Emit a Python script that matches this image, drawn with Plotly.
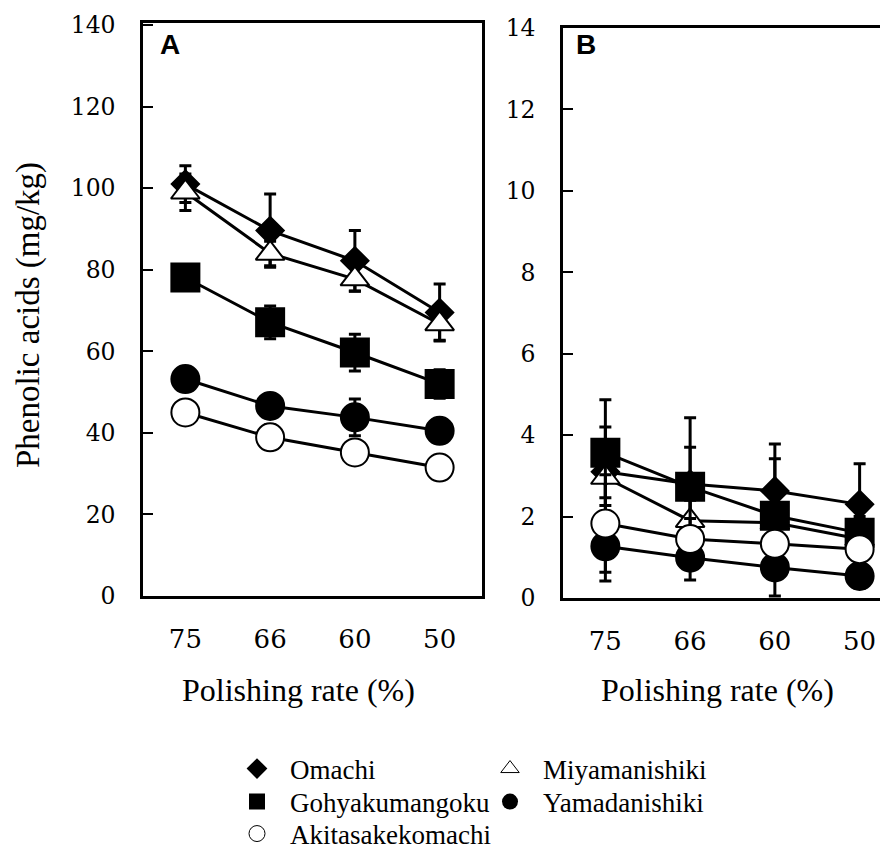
import plotly.graph_objects as go

# ---------------- data ----------------
polishing_rate = ["75", "66", "60", "50"]

series_names = ["Omachi", "Miyamanishiki", "Gohyakumangoku", "Yamadanishiki", "Akitasakekomachi"]

# Panel A (mg/kg)
omachi_A = [101.0, 89.6, 82.2, 69.5]
omachi_A_err = [4.5, 9.0, 7.4, 7.0]
miyama_A = [99.0, 84.0, 77.7, 66.7]
miyama_A_err = [4.5, 3.0, 3.0, 4.0]
goh_A = [78.1, 67.1, 59.7, 52.0]
goh_A_err = [2.0, 4.0, 4.5, 3.5]
yamada_A = [53.2, 46.6, 43.8, 40.5]
yamada_A_err = [2.0, 2.5, 4.5, 2.0]
akita_A = [45.0, 38.9, 35.2, 31.5]
akita_A_err = [2.5, 3.0, 2.0, 1.5]

# Panel B (mg/kg)
omachi_B = [3.10, 2.80, 2.63, 2.30]
omachi_B_err = [1.10, 0.90, 1.15, 1.00]
miyama_B = [2.96, 1.90, 1.85, 1.45]
miyama_B_err = [0.50, 0.50, 0.40, 0.30]
goh_B = [3.57, 2.73, 2.02, 1.60]
goh_B_err = [1.30, 1.70, 1.40, 0.40]
yamada_B = [1.27, 0.99, 0.75, 0.54]
yamada_B_err = [0.85, 0.55, 0.70, 0.30]
akita_B = [1.83, 1.45, 1.33, 1.20]
akita_B_err = [1.20, 0.50, 0.40, 0.30]

y_ticks_A = [0, 20, 40, 60, 80, 100, 120, 140]
y_ticks_B = [0, 2, 4, 6, 8, 10, 12, 14]

# ---------------- styles ----------------
OFF = 8  # page body margin
W, H = 888 - OFF, 849 - OFF
styles = {
    "Omachi": dict(symbol="diamond", color="black", size=21),
    "Miyamanishiki": dict(symbol="triangle-up", color="white", size=25),
    "Gohyakumangoku": dict(symbol="square", color="black", size=28),
    "Yamadanishiki": dict(symbol="circle", color="black", size=28),
    "Akitasakekomachi": dict(symbol="circle", color="white", size=28),
}

data_A = {
    "Omachi": (omachi_A, omachi_A_err),
    "Miyamanishiki": (miyama_A, miyama_A_err),
    "Gohyakumangoku": (goh_A, goh_A_err),
    "Yamadanishiki": (yamada_A, yamada_A_err),
    "Akitasakekomachi": (akita_A, akita_A_err),
}
data_B = {
    "Omachi": (omachi_B, omachi_B_err),
    "Miyamanishiki": (miyama_B, miyama_B_err),
    "Gohyakumangoku": (goh_B, goh_B_err),
    "Yamadanishiki": (yamada_B, yamada_B_err),
    "Akitasakekomachi": (akita_B, akita_B_err),
}


def px_x(p):
    return (p - OFF) / W


def px_y(p):
    return 1 - (p - OFF) / H


fig = go.Figure()

for panel, data, xa, ya in [("A", data_A, "x", "y"), ("B", data_B, "x2", "y2")]:
    for name in series_names:
        vals, errs = data[name]
        st = styles[name]
        fig.add_trace(go.Scatter(
            x=polishing_rate, y=vals, xaxis=xa, yaxis=ya,
            mode="lines+markers", showlegend=False, name=name,
            line=dict(color="black", width=3),
            marker=dict(symbol=st["symbol"], size=st["size"], color=st["color"],
                        line=dict(color="black", width=2)),
            error_y=dict(type="data", array=errs, visible=True, color="black",
                         thickness=3, width=6),
            cliponaxis=False,
        ))

# legend entries (markers only), one legend box per entry for exact placement
legend_layout = [
    # name, legend id, left x px, row centre y px
    ("Omachi", "legend", 224, 769),
    ("Gohyakumangoku", "legend2", 224, 802),
    ("Akitasakekomachi", "legend3", 224, 834),
    ("Miyamanishiki", "legend4", 477, 769),
    ("Yamadanishiki", "legend5", 477, 802),
]
serif = "Liberation Serif"
legend_defs = {}
for name, lid, lx, ly in legend_layout:
    st = styles[name]
    open_marker = st["color"] == "white"
    fig.add_trace(go.Scatter(
        x=[None], y=[None], mode="markers", name=name,
        legend=lid, showlegend=True,
        marker=dict(symbol=st["symbol"], size=20, color=st["color"],
                    line=dict(color="black", width=1 if open_marker else 0)),
    ))
    legend_defs[lid] = dict(x=px_x(lx), y=px_y(ly), xanchor="left", yanchor="middle",
                            font=dict(family=serif, size=27, color="black"),
                            bgcolor="rgba(0,0,0,0)", itemwidth=56)

y_tick_font = dict(family="DejaVu Serif", size=23.5, color="black")
x_tick_font = dict(family="DejaVu Serif", size=26, color="black")

fig.update_layout(
    width=W, height=H,
    margin=dict(l=0, r=0, t=0, b=0, autoexpand=False),
    paper_bgcolor="white", plot_bgcolor="white",
    xaxis=dict(domain=[px_x(143), px_x(482)], type="category", range=[-0.5, 3.5],
               showline=True, mirror=True, linecolor="black", linewidth=2.5,
               ticks="", showgrid=False, zeroline=False, tickfont=x_tick_font,
               ticklabelstandoff=18, anchor="y", automargin=False),
    yaxis=dict(domain=[px_y(596), px_y(23)], range=[0, 140.5],
               tickvals=y_ticks_A, showline=True, mirror=True, linecolor="black",
               linewidth=2.5, ticks="inside", ticklen=10, tickwidth=1.5, tickcolor="black",
               showgrid=False, zeroline=False, tickfont=y_tick_font,
               ticklabelstandoff=20, anchor="x", automargin=False),
    xaxis2=dict(domain=[px_x(563), 1.0], type="category",
                range=[-0.5, -0.5 + (888 - 563) / 84.75],
                showline=True, mirror=True, linecolor="black", linewidth=2.5,
                ticks="", showgrid=False, zeroline=False, tickfont=x_tick_font,
                ticklabelstandoff=18, anchor="y2", automargin=False),
    yaxis2=dict(domain=[px_y(598), px_y(28)], range=[0, 14],
                tickvals=y_ticks_B, showline=True, mirror=False, linecolor="black",
                linewidth=2.5, ticks="inside", ticklen=10, tickwidth=1.5, tickcolor="black",
                showgrid=False, zeroline=False, tickfont=y_tick_font,
                ticklabelstandoff=20, anchor="x2", automargin=False),
    annotations=[
        dict(text="Polishing rate (%)", x=px_x(298), y=px_y(690), xref="paper", yref="paper",
             showarrow=False, font=dict(family=serif, size=32, color="black"),
             xanchor="center", yanchor="middle"),
        dict(text="Polishing rate (%)", x=px_x(717), y=px_y(690), xref="paper", yref="paper",
             showarrow=False, font=dict(family=serif, size=32, color="black"),
             xanchor="center", yanchor="middle"),
        dict(text="Phenolic acids (mg/kg)", x=px_x(28), y=px_y(315), xref="paper", yref="paper",
             showarrow=False, textangle=-90, font=dict(family=serif, size=33, color="black"),
             xanchor="center", yanchor="middle"),
        dict(text="<b>A</b>", x=px_x(158), y=px_y(45), xref="paper", yref="paper",
             showarrow=False, font=dict(family="Liberation Sans", size=28, color="black"),
             xanchor="left", yanchor="middle"),
        dict(text="<b>B</b>", x=px_x(574), y=px_y(45), xref="paper", yref="paper",
             showarrow=False, font=dict(family="Liberation Sans", size=28, color="black"),
             xanchor="left", yanchor="middle"),
    ],
)
fig.update_layout(**legend_defs)

fig.write_html("out.html")
